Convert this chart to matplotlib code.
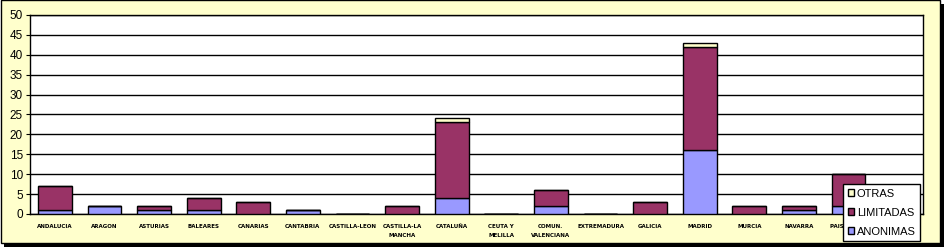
import matplotlib
matplotlib.use("Agg")
import matplotlib.pyplot as plt
import numpy as np
from matplotlib.patches import Rectangle

# ---------------------------------------------------------------------------
# Data
# ---------------------------------------------------------------------------

regions = [
    "ANDALUCIA", "ARAGON", "ASTURIAS", "BALEARES", "CANARIAS", "CANTABRIA",
    "CASTILLA-LEON", "CASTILLA-LA\nMANCHA", "CATALUÑA", "CEUTA Y\nMELILLA",
    "COMUN.\nVALENCIANA", "EXTREMADURA", "GALICIA", "MADRID", "MURCIA",
    "NAVARRA", "PAIS VASCO",
]
anonimas = [1, 2, 1, 1, 0, 1, 0, 0, 4, 0, 2, 0, 0, 16, 0, 1, 2]
limitadas = [6, 0, 1, 3, 3, 0, 0, 2, 19, 0, 4, 0, 3, 26, 2, 1, 8]
otras = [0, 0, 0, 0, 0, 0, 0, 0, 1, 0, 0, 0, 0, 1, 0, 0, 0]
y_ticks = list(range(0, 51, 5))

BG = "#FFFFCC"
C_ANON = "#9999FF"
C_LIM = "#993366"
C_OTR = "#FFFFCC"

plt.rcParams["font.family"] = ["Liberation Sans", "DejaVu Sans"]

# ---------------------------------------------------------------------------
# Figure
# ---------------------------------------------------------------------------

W, H = 944, 247
fig = plt.figure(figsize=(W / 100, H / 100), dpi=100)
fig.patch.set_facecolor("white")

# shadow + framed background
fig.patches.append(Rectangle((4 / W, 0), 940 / W, 243 / H, transform=fig.transFigure,
                             facecolor="black", edgecolor="none", zorder=-2))
fig.patches.append(Rectangle((0.5 / W, 4.5 / H), 939 / W, 242 / H, transform=fig.transFigure,
                             facecolor=BG, edgecolor="black", linewidth=1.0, zorder=-1))

ax = fig.add_axes([30 / W, 1 - 214 / H, 893 / W, 199 / H])
ax.set_facecolor("white")

x = np.arange(len(regions))
anon = np.array(anonimas)
lim = np.array(limitadas)
otr = np.array(otras)
width = 0.68

kw = dict(width=width, edgecolor="black", linewidth=1.0, zorder=3)
b1 = ax.bar(x, anon, color=C_ANON, label="ANONIMAS", **kw)
b2 = ax.bar(x, lim, bottom=anon, color=C_LIM, label="LIMITADAS", **kw)
b3 = ax.bar(x, otr, bottom=anon + lim, color=C_OTR, label="OTRAS", **kw)

# plot area runs on past the last category (legend sits there)
ax.set_xlim(-0.5, len(regions) + 0.5)
ax.set_ylim(0, 50)
ax.set_yticks(y_ticks)
ax.yaxis.grid(True, color="black", linewidth=1.0, zorder=1)
ax.set_axisbelow(True)

ax.set_xticks(x)
ax.set_xticklabels(regions, fontsize=4.0, fontweight="bold", linespacing=2.1,
                   va="top", family="DejaVu Sans")
ax.tick_params(axis="x", length=0, pad=7)
ax.tick_params(axis="y", length=3, labelsize=8.5, pad=2, colors="black")

for side in ["top", "right", "left", "bottom"]:
    ax.spines[side].set_color("black")
    ax.spines[side].set_linewidth(1.0)

leg = ax.legend(handles=[b3, b2, b1], loc="lower right",
                bbox_to_anchor=(920 / W, 6 / H), bbox_transform=fig.transFigure,
                fontsize=8, frameon=True, fancybox=False, framealpha=1,
                borderaxespad=0, handlelength=0.55, handleheight=0.55,
                handletextpad=0.25, labelspacing=0.8, borderpad=0.4)
leg.get_frame().set_edgecolor("black")
leg.get_frame().set_linewidth(1.0)
leg.set_zorder(10)

fig.savefig("out.png", dpi=100, facecolor=fig.get_facecolor())
